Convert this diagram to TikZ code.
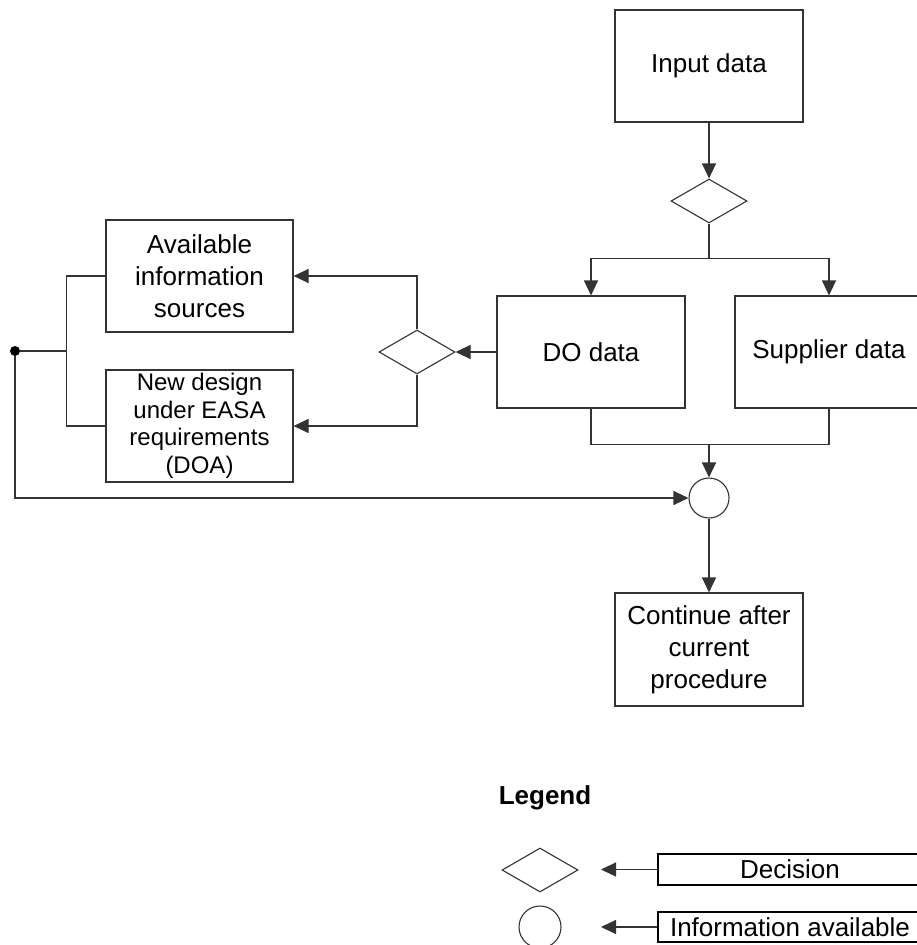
\documentclass[tikz,border=0pt]{standalone}
\usepackage{fontspec}
\setmainfont{Liberation Sans}
\usetikzlibrary{shapes.geometric,arrows.meta}

\tikzset{
  line/.style={draw=black!80, line width=1.1pt},
  arr/.style={line, -{Triangle[length=15pt,width=14pt]}},
  box/.style={line, rectangle, inner sep=0pt, align=center,
              font=\fontsize{26}{32}\selectfont},
  bigbox/.style={box, minimum width=188pt, minimum height=112pt},
  decision/.style={line, diamond, minimum width=76pt, minimum height=44pt, inner sep=0pt},
  info/.style={line, circle, minimum size=40pt, inner sep=0pt},
  legbox/.style={draw=black, line width=2pt, rectangle, inner sep=0pt,
                 minimum width=264pt, minimum height=31pt,
                 font=\fontsize{26}{30}\selectfont},
}

\begin{document}
\begin{tikzpicture}[x=1pt,y=-1pt]
\useasboundingbox (0,0) rectangle (916,945);

% main flow
\node[bigbox] (input) at (709,66) {Input data};
\node[decision] (d1) at (709,201) {};
\node[bigbox] (do) at (591,352) {DO data};
\node[bigbox] (sup) at (829,352) {Supplier data};
\node[decision] (d2) at (417,352) {};
\node[box, minimum width=187pt, minimum height=112pt] (avail) at (199.5,276)
  {Available\\information\\sources};
\node[box, minimum width=187pt, minimum height=112pt,
      font=\fontsize{24}{27.5}\selectfont] (newd) at (199.5,426)
  {New design\\under EASA\\requirements\\(DOA)};
\node[info] (circ) at (709,498) {};
\node[bigbox, minimum height=113pt] (cont) at (709,649.5)
  {Continue after\\current\\procedure};
\node[circle, fill=black, inner sep=0pt, minimum size=10pt] (dot) at (15,351) {};

% connectors
\draw[arr] (input.south) -- (d1.north);
\draw[line] (d1.south) -- ++(0,35) coordinate (split);
\draw[arr] (split) -| (do.north);
\draw[arr] (split) -| (sup.north);
\draw[arr] (do.west) -- (d2.east);
\draw[arr] (d2.north) |- (avail.east);
\draw[arr] (d2.south) |- (newd.east);
\draw[line] (avail.west) -- ++(-39,0) coordinate (bt)
  -- (bt |- newd.west) -- (newd.west);
\draw[line] (bt |- dot) -- (dot);
\draw[arr] (dot) |- (circ.west);
\draw[line] (do.south) -- ++(0,36) coordinate (jl) -| (sup.south);
\coordinate (join) at (circ.north |- jl);
\draw[arr] (join) -- (circ.north);
\draw[arr] (circ.south) -- (cont.north);

% legend
\node[font=\bfseries\fontsize{26}{30}\selectfont] (legend) at (545,798) {Legend};
\node[decision] (ld) at (540,870) {};
\node[info, minimum size=42pt] (lc) at (540,927) {};
\node[legbox] (ldec) at (790,869.5) {Decision};
\node[legbox, minimum height=30pt] (linfo) at (790,927) {Information available};
\coordinate (ta) at (601,869.5);
\coordinate (tb) at (601,927);
\draw[arr] (ldec.west) -- (ta);
\draw[arr] (linfo.west) -- (tb);
\end{tikzpicture}
\end{document}
